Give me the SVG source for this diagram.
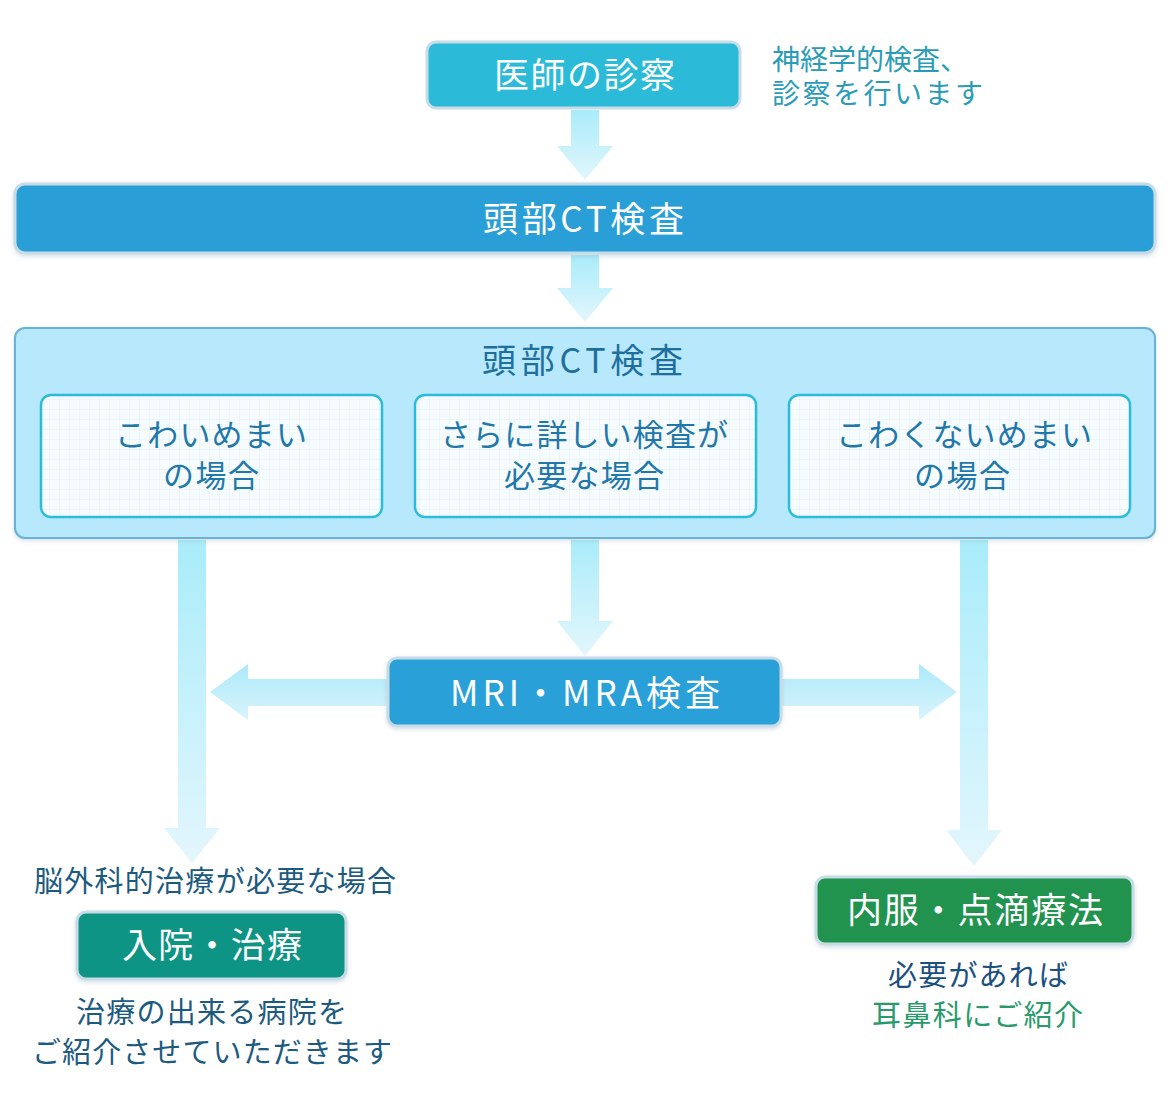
<svg xmlns="http://www.w3.org/2000/svg" width="1170" height="1100" viewBox="0 0 1170 1100">
<defs>
<linearGradient id="gv" x1="0" y1="0" x2="0" y2="1">
<stop offset="0" stop-color="#a9ecfa"/>
<stop offset="1" stop-color="#e3f6fc"/>
</linearGradient>
<linearGradient id="gh" x1="0" y1="0" x2="0" y2="1">
<stop offset="0" stop-color="#ace9f9"/>
<stop offset="1" stop-color="#d9f4fc"/>
</linearGradient>
<pattern id="grid" width="10" height="10" patternUnits="userSpaceOnUse">
<rect width="10" height="10" fill="#f6fbfe"/>
<path d="M10 0V10M0 10H10" fill="none" stroke="#e2eff7" stroke-width="1"/>
</pattern>
<filter id="sh" x="-5%" y="-20%" width="110%" height="140%">
<feDropShadow dx="0" dy="2" stdDeviation="2" flood-color="#8aa8bb" flood-opacity="0.35"/>
</filter>
</defs>
<style>
text{font-family:"Noto Sans CJK JP","Noto Sans",sans-serif;text-anchor:middle}
.w{fill:#ffffff;font-size:35px}
.sub{fill:#1f78a9;font-size:31px}
.dk{fill:#1c5a80;font-size:29px}
.box{stroke:#c8dce8;stroke-width:3}
.inner{fill:url(#grid);stroke:#2bbcd9;stroke-width:2.5}
</style>

<g id="connectors">
<path d="M571 110H599V146H613L585 180L557 146H571Z" fill="url(#gv)"/>
<path d="M571 255H599V288H613L585 322L557 288H571Z" fill="url(#gv)"/>
<path d="M571 540H599V621H613L585 656L557 621H571Z" fill="url(#gv)"/>
<path d="M178 540H206V828H220L192 863L164 828H178Z" fill="url(#gv)"/>
<path d="M960 540H988V830H1002L974 866L946 830H960Z" fill="url(#gv)"/>
<path d="M390 679V706H248V720L210 692L248 664V679Z" fill="url(#gh)"/>
<path d="M780 679V706H919V720L957 692L919 664V679Z" fill="url(#gh)"/>
</g>

<g id="n-doctor">
<rect class="box" x="427" y="42" width="313" height="66" rx="9" fill="#2bbbd8"/>
<text class="w" x="584.5" y="88" textLength="181" lengthAdjust="spacing">医師の診察</text>
</g>
<g id="n-note">
<text x="772" y="70" textLength="196" lengthAdjust="spacing" style="text-anchor:start;font-size:28px;fill:#2a9cb8">神経学的検査、</text>
<text x="772" y="104" textLength="211" lengthAdjust="spacing" style="text-anchor:start;font-size:28px;fill:#2a9cb8">診察を行います</text>
</g>

<g id="n-ct">
<rect class="box" x="15" y="184" width="1140" height="69" rx="10" fill="#2a9fd7" filter="url(#sh)"/>
<text class="w" x="583.5" y="232" textLength="201" lengthAdjust="spacing">頭部CT検査</text>
</g>

<g id="n-ct-result">
<rect x="15" y="328" width="1140" height="210" rx="10" fill="#b7e8fc" stroke="#67b2d6" stroke-width="2" filter="url(#sh)"/>
<text x="582.5" y="373" textLength="201" lengthAdjust="spacing" style="font-size:34px;fill:#1f6f9c">頭部CT検査</text>
</g>
<g id="n-scary">
<rect class="inner" x="41" y="395" width="341" height="122" rx="10"/>
<text class="sub" x="211" y="446" textLength="192" lengthAdjust="spacing">こわいめまい</text>
<text class="sub" x="211" y="487" textLength="96" lengthAdjust="spacing">の場合</text>
</g>
<g id="n-detail">
<rect class="inner" x="415" y="395" width="341" height="122" rx="10"/>
<text class="sub" x="584" y="446" textLength="288" lengthAdjust="spacing">さらに詳しい検査が</text>
<text class="sub" x="584" y="487" textLength="160" lengthAdjust="spacing">必要な場合</text>
</g>
<g id="n-notscary">
<rect class="inner" x="789" y="395" width="341" height="122" rx="10"/>
<text class="sub" x="964" y="446" textLength="256" lengthAdjust="spacing">こわくないめまい</text>
<text class="sub" x="962" y="487" textLength="96" lengthAdjust="spacing">の場合</text>
</g>

<g id="n-mri">
<rect class="box" x="388" y="658" width="393" height="68" rx="9" fill="#2aa0d8" filter="url(#sh)"/>
<text class="w" x="585" y="706" textLength="270" lengthAdjust="spacing">MRI・MRA検査</text>
</g>

<g id="n-hosp">
<text class="dk" x="215" y="892" textLength="362" lengthAdjust="spacing">脳外科的治療が必要な場合</text>
<rect class="box" x="77" y="912" width="269" height="67" rx="9" fill="#0f9484" filter="url(#sh)"/>
<text class="w" x="212" y="958" textLength="180" lengthAdjust="spacing">入院・治療</text>
<text class="dk" x="211.5" y="1023" textLength="271" lengthAdjust="spacing">治療の出来る病院を</text>
<text class="dk" x="212" y="1063" textLength="360" lengthAdjust="spacing">ご紹介させていただきます</text>
</g>

<g id="n-med">
<rect class="box" x="816" y="877" width="317" height="67" rx="9" fill="#21934f" filter="url(#sh)"/>
<text class="w" x="975" y="923" textLength="256" lengthAdjust="spacing">内服・点滴療法</text>
<text x="978" y="986" textLength="180" lengthAdjust="spacing" style="font-size:29px;fill:#1b4f80">必要があれば</text>
<text x="977.5" y="1026" textLength="211" lengthAdjust="spacing" style="font-size:29px;fill:#2a9a6c">耳鼻科にご紹介</text>
</g>
</svg>
